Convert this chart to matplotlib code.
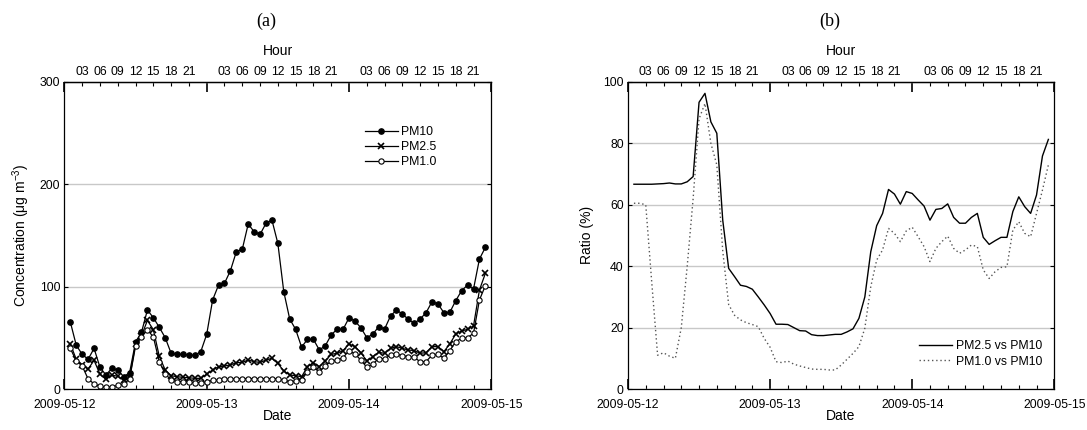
import matplotlib
matplotlib.use("Agg")
import matplotlib.pyplot as plt
import matplotlib.dates as mdates
import pandas as pd
import numpy as np

plt.rcParams['font.family'] = ['Liberation Sans', 'DejaVu Sans']
plt.rcParams['mathtext.fontset'] = 'custom'
plt.rcParams['mathtext.rm'] = 'Liberation Sans'
plt.rcParams['mathtext.it'] = 'Liberation Sans:italic'

# ---------------- data ----------------
times = pd.date_range('2009-05-12 01:00', periods=71, freq='h')

pm10 = [65.5, 42.7, 33.9, 29, 39.7, 21.2, 13.7, 20.2, 18.6, 12, 16, 46, 55.4, 77.2, 69.7, 60.3,
        50.2, 34.9, 33.9, 33.9, 33.2, 32.9, 36.5, 53.4,
        87, 101.6, 103.3, 115.6, 134.2, 136.5, 161.2, 153.7, 151.1, 161.9, 165.1, 142.3, 95.1,
        68.4, 58.3, 41, 48.5, 48.5, 38.1, 42.3, 52.8, 58.6, 58.3, 69.5,
        66.4, 59.9, 50.2, 53.4, 60.9, 58.6, 71.3, 77.2, 73.3, 68.1, 64.2, 68.4, 74.6, 85.3, 83.1,
        74.6, 74.9, 86.3, 96.1, 101.6, 97.7, 127, 138.4]

pm25 = [44, 29, 23, 19.5, 28, 14.5, 9.5, 13.5, 12.5, 8.5, 11, 44, 52, 67, 58, 32,
        18.6, 13, 12, 11.4, 11, 10.4, 10.4, 14.6,
        18.6, 21.8, 22.5, 23.5, 25.7, 26, 28.3, 26.7, 26, 28.3, 30, 25, 17.6,
        13.7, 13, 12, 21.8, 25.7, 21.8, 27.4, 33.9, 34.9, 37.5, 44,
        41.4, 35.5, 27.4, 31.6, 35.8, 34.9, 39.7, 41.4, 39.7, 38.1, 37.5, 34.9, 35.5, 41.4, 41.4,
        36.5, 44, 53.7, 56.7, 58.3, 61.6, 96.7, 113]

pm1 = [39.7, 27.4, 22.5, 9.8, 5, 2.5, 1.8, 2.2, 3.5, 4.6, 10, 42, 51, 57.7, 51, 26.7,
       14.7, 8.8, 7.2, 7.2, 6.5, 6.2, 6.2, 7.2,
       8.5, 8.8, 9.4, 9.8, 10.1, 10.1, 10.2, 10.1, 10.1, 10.1, 10.2, 10, 8.8,
       7.2, 7.8, 8.8, 17, 21.2, 17, 22.5, 27.4, 28.3, 30.6, 37.5,
       34.2, 28.3, 21.2, 24.4, 29.6, 29.6, 33.2, 34.2, 32.6, 31.6, 30.9, 26.7, 26.7, 33.2, 33.9,
       30, 37.5, 46.3, 49.5, 50.2, 54.4, 87, 101]

ratio_25_10 = [66.7, 66.7, 66.7, 66.7, 66.8, 66.9, 67.1, 66.8, 66.8, 67.5, 69.2, 93.4, 96.3, 87, 83.3, 55,
               39.3, 36.6, 33.8, 33.4, 32.5, 30, 27.4, 24.6,
               21.1, 21.1, 21, 20, 19, 18.9, 17.7, 17.4, 17.4, 17.6, 17.8, 17.8, 18.6,
               19.6, 23, 30, 44.7, 53.2, 57.2, 65, 63.5, 60.2, 64.3, 63.7,
               61.6, 59.6, 55, 58.5, 58.8, 60.3, 55.9, 54, 54, 55.9, 57.2, 49.4, 47.1, 48.3, 49.4,
               49.4, 57.8, 62.6, 59.4, 57.2, 63.2, 75.9, 81.3]

ratio_1_10 = [60.5, 60.5, 60, 35, 11, 11.8, 10.7, 10, 20, 40, 62, 88, 93, 80, 73, 45,
              27.5, 24, 22.5, 21.6, 21, 20.3, 16.5, 13.6,
              8.9, 8.6, 9.1, 8.1, 7.5, 7, 6.5, 6.4, 6.4, 6.2, 6.2, 7.8, 9.7,
              11.6, 13.8, 19.8, 33.3, 42, 45.3, 52.3, 50.7, 48, 51.5, 52.7,
              49.6, 46.4, 41.5, 45.8, 48, 49.8, 45.8, 44.2, 45.3, 46.9, 46.4, 38.8, 36, 38.2, 39.6,
              39.8, 51.8, 54.5, 50.7, 49.6, 57.2, 64.8, 73]

xstart = pd.Timestamp('2009-05-12 00:00')
xend = pd.Timestamp('2009-05-15 00:00')

# ---------------- figure ----------------
W, H = 1087, 430
fig = plt.figure(figsize=(W / 100, H / 100), dpi=100)

def axes_px(left, right, top, bottom):
    return fig.add_axes([left / W, 1 - bottom / H, (right - left) / W, (bottom - top) / H])

ax_a = axes_px(64.4, 491.3, 82, 389)
ax_b = axes_px(628, 1054.3, 82, 389)

TICK_FS = 8.8
LABEL_FS = 10

def style_axes(ax, ymax, ystep):
    ax.set_xlim(xstart, xend)
    ax.set_ylim(0, ymax)
    ax.set_yticks(np.arange(0, ymax + 0.1, ystep))
    ax.yaxis.grid(True, color='#c8c8c8', lw=1.0)
    ax.set_axisbelow(True)
    ax.xaxis.set_major_locator(mdates.DayLocator())
    ax.xaxis.set_major_formatter(mdates.DateFormatter('%Y-%m-%d'))
    ax.xaxis.set_minor_locator(mdates.HourLocator(byhour=range(3, 24, 3)))
    ax.tick_params(axis='x', which='major', direction='in', length=7, width=1.2,
                   labelsize=TICK_FS, pad=7, top=False)
    ax.tick_params(axis='x', which='minor', direction='in', length=3, width=0.8, top=False)
    ax.tick_params(axis='y', which='major', direction='in', length=3, width=0.8,
                   labelsize=TICK_FS, pad=3, right=True)
    for sp in ax.spines.values():
        sp.set_linewidth(0.9)
    # top hour axis
    sec = ax.secondary_xaxis('top')
    sec.xaxis.set_major_locator(mdates.DayLocator())
    sec.xaxis.set_major_formatter(plt.NullFormatter())
    sec.xaxis.set_minor_locator(mdates.HourLocator(byhour=range(3, 24, 3)))
    sec.xaxis.set_minor_formatter(mdates.DateFormatter('%H'))
    sec.tick_params(axis='x', which='major', direction='in', length=7, width=1.2)
    sec.tick_params(axis='x', which='minor', direction='in', length=3, width=0.8,
                    labelsize=TICK_FS, pad=3)
    sec.spines['top'].set_linewidth(0.9)
    return sec

style_axes(ax_a, 300, 100)
style_axes(ax_b, 100, 20)

# panel (a)
ax_a.plot(times, pm10, color='black', lw=0.9, marker='o', ms=3.8, mfc='black', mec='black',
          label='PM10')
ax_a.plot(times, pm25, color='black', lw=0.9, marker='x', ms=3.8, mew=1.2, label='PM2.5')
ax_a.plot(times, pm1, color='black', lw=0.9, marker='o', ms=3.8, mfc='white', mec='black',
          mew=0.8, label='PM1.0')
leg_a = ax_a.legend(loc='upper left', bbox_to_anchor=(0.703, 0.857), frameon=False,
                    fontsize=TICK_FS, handlelength=2.7, handletextpad=0.3,
                    labelspacing=0.25, borderpad=0, borderaxespad=0)

# panel (b)
ax_b.plot(times, ratio_25_10, color='black', lw=1.0, label='PM2.5 vs PM10')
ax_b.plot(times, ratio_1_10, color='#555555', lw=1.0, linestyle=(0, (1, 2)),
          label='PM1.0 vs PM10')
leg_b = ax_b.legend(loc='upper left', bbox_to_anchor=(0.683, 0.158), frameon=False,
                    fontsize=TICK_FS, handlelength=2.7, handletextpad=0.3,
                    labelspacing=0.25, borderpad=0, borderaxespad=0)

# labels
def ftext(x, y, s, **kw):
    fig.text(x / W, 1 - y / H, s, ha='center', va='center', **kw)

ftext(266, 21, '(a)', fontsize=13, family=['Liberation Serif', 'DejaVu Serif'])
ftext(830, 21, '(b)', fontsize=13, family=['Liberation Serif', 'DejaVu Serif'])
ftext(278, 51, 'Hour', fontsize=LABEL_FS)
ftext(841, 51, 'Hour', fontsize=LABEL_FS)
ftext(278, 416, 'Date', fontsize=LABEL_FS)
ftext(841, 416, 'Date', fontsize=LABEL_FS)
ftext(21, 235, 'Concentration (μg m$^{-3}$)', fontsize=LABEL_FS, rotation=90)
ftext(587, 235, 'Ratio (%)', fontsize=LABEL_FS, rotation=90)

fig.savefig('out.png', dpi=100)
